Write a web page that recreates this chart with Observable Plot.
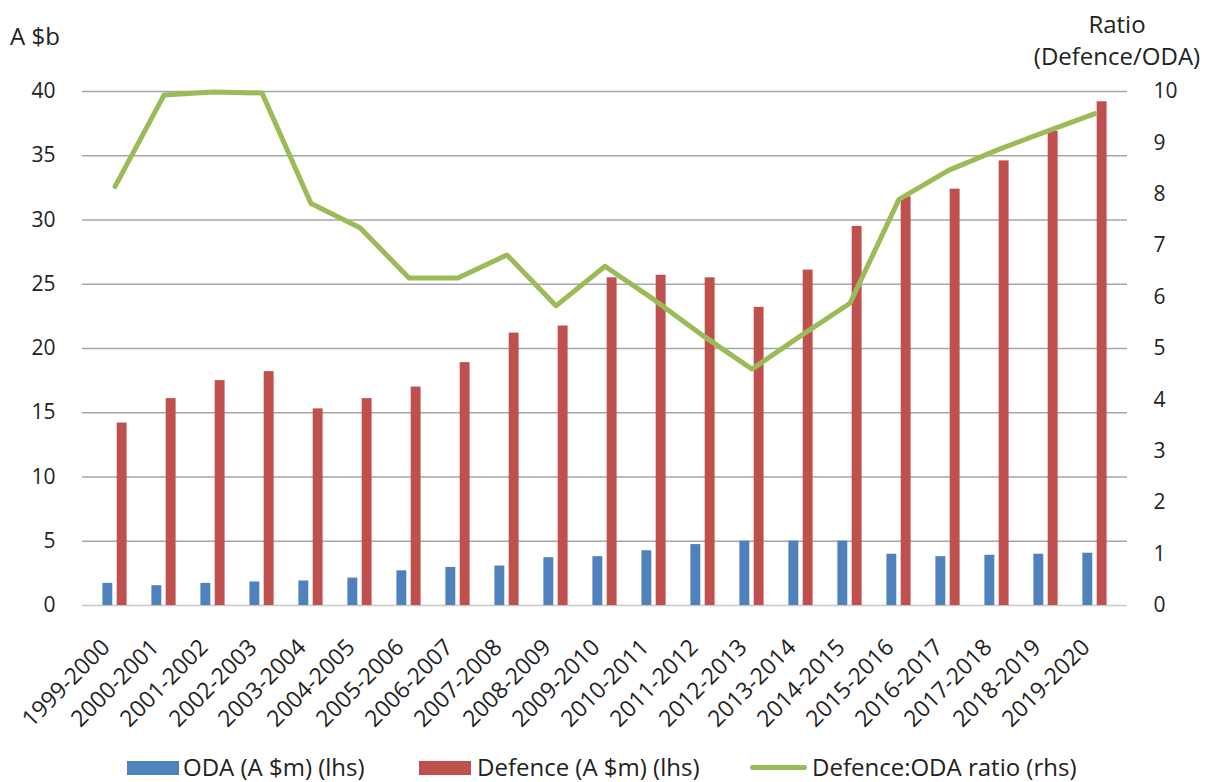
<!DOCTYPE html>
<html>
<head>
<meta charset="utf-8">
<script src="https://cdn.jsdelivr.net/npm/d3@7"></script>
<script src="https://cdn.jsdelivr.net/npm/@observablehq/plot@0.6"></script>
<style>
  body { margin: 0; background: #fff; }
  #wrap { position: relative; width: 1209px; height: 782px; font-family: "Open Sans", sans-serif; color: #222; }
  .t { position: absolute; font-size: 24px; line-height: 24px; white-space: nowrap; }
  #legend { position: absolute; left: 0; top: 740px; width: 1209px; height: 42px; }
  .sw { position: absolute; }
</style>
</head>
<body>
<div id="wrap">
  <div id="chart"></div>
  <div class="t" style="left:10px; top:24px;">A $b</div>
  <div class="t" style="left:1017px; width:200px; text-align:center; top:12px;">Ratio</div>
  <div class="t" style="left:1017px; width:200px; text-align:center; top:44px;">(Defence/ODA)</div>
  <div id="legend">
    <div class="sw" style="left:127px; top:21px; width:52px; height:14px; background:#4F81BD;"></div>
    <div class="t" style="left:183px; top:15px;">ODA (A $m) (lhs)</div>
    <div class="sw" style="left:419px; top:21px; width:52px; height:14px; background:#C0504D;"></div>
    <div class="t" style="left:477px; top:15px;">Defence (A $m) (lhs)</div>
    <div class="sw" style="left:750px; top:25px; width:57px; height:5px; border-radius:3px; background:#9BBB59;"></div>
    <div class="t" style="left:812px; top:15px;">Defence:ODA ratio (rhs)</div>
  </div>
</div>
<script>
const years = ["1999-2000","2000-2001","2001-2002","2002-2003","2003-2004","2004-2005","2005-2006","2006-2007","2007-2008","2008-2009","2009-2010","2010-2011","2011-2012","2012-2013","2013-2014","2014-2015","2015-2016","2016-2017","2017-2018","2018-2019","2019-2020"];
const oda = [1.72,1.54,1.72,1.83,1.91,2.13,2.70,2.96,3.07,3.72,3.80,4.26,4.74,5.01,5.01,5.01,3.99,3.80,3.91,3.99,4.07];
const defence = [14.2,16.1,17.5,18.2,15.3,16.1,17.0,18.9,21.2,21.75,25.5,25.7,25.5,23.2,26.1,29.5,31.8,32.4,34.6,36.9,39.2];
const ratio = [8.15,9.93,9.99,9.97,7.82,7.35,6.37,6.37,6.82,5.83,6.60,5.95,5.25,4.60,5.25,5.88,7.90,8.46,8.86,9.22,9.57];
const leftTicks = [0,5,10,15,20,25,30,35,40];
const rightTicks = [0,1,2,3,4,5,6,7,8,9,10];
const ratioFactor = 4; // right axis 0–10 maps onto left axis 0–40

const data = years.map((y, i) => ({year: y, oda: oda[i], defence: defence[i], ratio: ratio[i]}));

const chart = Plot.plot({
  width: 1209,
  height: 740,
  marginLeft: 82,
  marginRight: 82,
  marginTop: 91,
  marginBottom: 135,
  style: {fontFamily: "Open Sans, sans-serif", fontSize: "21px", color: "#222", background: "#fff"},
  x: {type: "band", domain: years, padding: 0, label: null},
  y: {domain: [0, 40], label: null},
  marks: [
    Plot.ruleY(leftTicks.filter(d => d > 0), {stroke: "#a6a6a6", strokeWidth: 1.5}),
    Plot.ruleY([0], {stroke: "#c8c8c8", strokeWidth: 1.5}),
    Plot.barY(data, {x: "year", y: "oda", fill: "#4F81BD", insetLeft: 12.4, insetRight: 26.7}),
    Plot.barY(data, {x: "year", y: "defence", fill: "#C0504D", insetLeft: 26.7, insetRight: 12.4}),
    Plot.line(data, {x: "year", y: d => d.ratio * ratioFactor, stroke: "#9BBB59", strokeWidth: 5, strokeLinejoin: "round", strokeLinecap: "round"}),
    Plot.axisY(leftTicks, {anchor: "left", tickSize: 0, tickPadding: 27, label: null, fontSize: 21}),
    Plot.axisY(rightTicks.map(d => d * ratioFactor), {anchor: "right", tickSize: 0, tickPadding: 26, tickFormat: d => d / ratioFactor, label: null, fontSize: 21}),
    Plot.axisX({anchor: "bottom", tickSize: 0, tickRotate: -45, tickPadding: 38, dx: -9, label: null, fontSize: 23})
  ]
});
document.getElementById("chart").appendChild(chart);
</script>
</body>
</html>
